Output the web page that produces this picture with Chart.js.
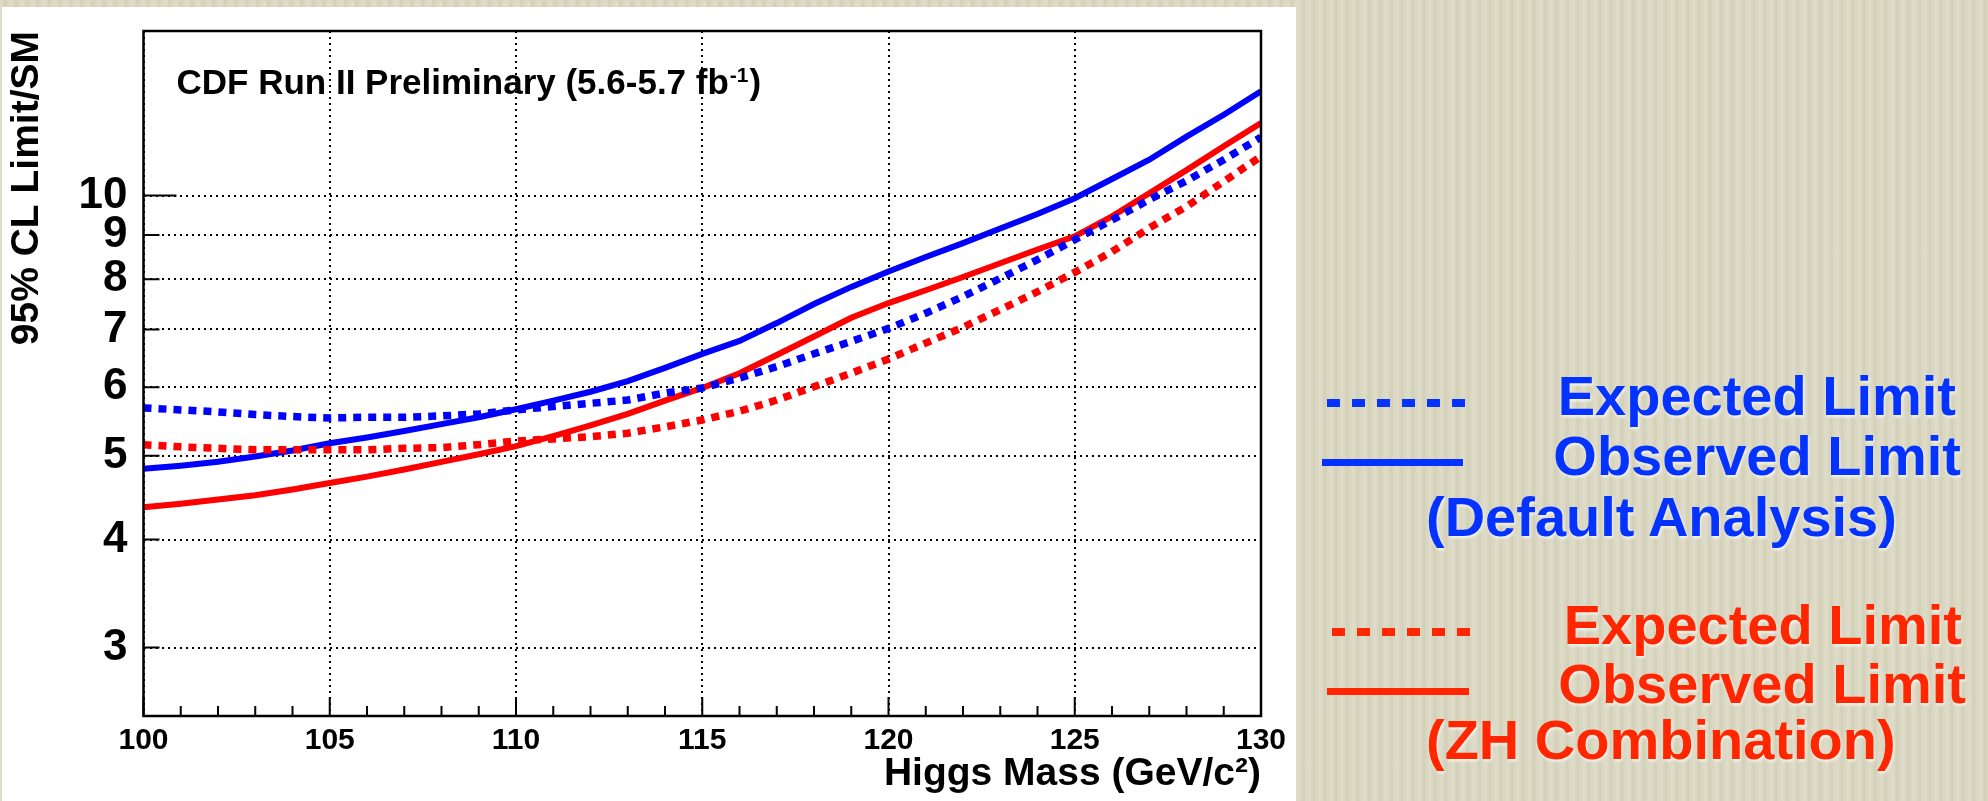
<!DOCTYPE html>
<html><head><meta charset="utf-8">
<script src="https://cdn.jsdelivr.net/npm/chart.js@4.4.0/dist/chart.umd.min.js"></script>
<style>
html,body{margin:0;padding:0;width:1988px;height:801px;overflow:hidden;}
body{position:relative;background-color:#d9d6c0;
 background-image:repeating-linear-gradient(90deg,rgba(255,255,255,0.18) 0px,rgba(255,255,255,0.0) 3px,rgba(120,110,80,0.07) 5px,rgba(255,255,255,0.0) 7px,rgba(255,255,255,0.12) 11px);
 font-family:"Liberation Sans",Arial,sans-serif;}
#panel{position:absolute;left:2px;top:7px;width:1294px;height:794px;background:#fff;}
#c{position:absolute;left:0;top:0;}
.lg{position:absolute;font-weight:bold;font-size:56px;line-height:56px;white-space:nowrap;text-shadow:1px 2px 3px rgba(255,255,255,0.8);}
.blue{color:#0433ff}.red{color:#ff2600}
.ln{position:absolute;}
</style></head>
<body>
<div id="panel"></div>
<canvas id="c" width="1988" height="801"></canvas>

<div class="ln" style="left:1327px;top:399px;width:138px;height:8px;background:repeating-linear-gradient(90deg,#0433ff 0 13px,transparent 13px 25px);"></div>
<div class="ln" style="left:1322px;top:459px;width:141px;height:7px;background:#0433ff;"></div>
<div class="lg blue" style="right:32px;top:368px;">Expected Limit</div>
<div class="lg blue" style="right:27px;top:428px;">Observed Limit</div>
<div class="lg blue" style="left:1426px;top:489px;">(Default Analysis)</div>

<div class="ln" style="left:1332px;top:628px;width:138px;height:8px;background:repeating-linear-gradient(90deg,#ff2600 0 13px,transparent 13px 25px);"></div>
<div class="ln" style="left:1327px;top:688px;width:142px;height:7px;background:#ff2600;"></div>
<div class="lg red" style="right:26px;top:597px;">Expected Limit</div>
<div class="lg red" style="right:22px;top:656px;">Observed Limit</div>
<div class="lg red" style="left:1426px;top:712px;">(ZH Combination)</div>

<script>
// ---- data ----
const masses = [100,101,102,103,104,105,106,107,108,109,110,111,112,113,114,115,116,117,118,119,120,121,122,123,124,125,126,127,128,129,130];
const expectedDefault = [5.68,5.65,5.62,5.58,5.55,5.53,5.54,5.54,5.56,5.59,5.65,5.70,5.75,5.80,5.91,5.99,6.15,6.34,6.56,6.78,7.02,7.31,7.64,8.02,8.43,8.89,9.37,9.89,10.4,11.0,11.68];
const observedDefault = [4.83,4.87,4.92,4.99,5.07,5.17,5.25,5.34,5.44,5.54,5.66,5.79,5.93,6.10,6.32,6.56,6.79,7.12,7.49,7.84,8.17,8.49,8.81,9.16,9.52,9.93,10.45,11.0,11.7,12.4,13.2];
const expectedZH = [5.15,5.12,5.10,5.08,5.08,5.08,5.08,5.10,5.11,5.15,5.20,5.23,5.26,5.31,5.40,5.50,5.63,5.80,6.01,6.23,6.47,6.75,7.04,7.38,7.74,8.15,8.61,9.17,9.71,10.38,11.1];
const observedZH = [4.36,4.40,4.45,4.50,4.57,4.65,4.73,4.82,4.92,5.02,5.13,5.27,5.42,5.59,5.79,5.99,6.23,6.54,6.87,7.22,7.51,7.77,8.05,8.35,8.66,8.97,9.46,10.06,10.7,11.4,12.13];
const xTickValues = [100,105,110,115,120,125,130];
const yTickValues = [3,4,5,6,7,8,9,10];
const xMinorStep = 1;

const FONT = '"Liberation Sans", Arial, sans-serif';
const BLUE = '#0000ff', RED = '#ff0000';

function pts(ys){ return masses.map((m,i)=>({x:m,y:ys[i]})); }

const framePlugin = {
  id:'frame',
  afterDraw(chart){
    const {ctx, chartArea:{left,top,right,bottom}, scales:{x,y}} = chart;
    ctx.save();
    ctx.strokeStyle = '#000';
    ctx.lineWidth = 2;
    ctx.beginPath();
    for (let m = x.min; m <= x.max; m += xMinorStep){
      const px = x.getPixelForValue(m);
      const len = (m % 5 === 0) ? 19 : 10;
      ctx.moveTo(px, bottom); ctx.lineTo(px, bottom - len);
    }
    yTickValues.forEach(v=>{
      const py = y.getPixelForValue(v);
      const len = v === 10 ? 33 : 16;
      ctx.moveTo(left, py); ctx.lineTo(left + len, py);
    });
    ctx.stroke();
    ctx.lineWidth = 2.5;
    ctx.strokeRect(left, top, right - left, bottom - top);
    // in-plot label
    ctx.fillStyle = '#000';
    ctx.textBaseline = 'alphabetic';
    ctx.textAlign = 'left';
    ctx.font = 'bold 35px ' + FONT;
    const t1 = 'CDF Run II Preliminary (5.6-5.7 fb';
    let tx = left + 33, ty = 94;
    ctx.fillText(t1, tx, ty);
    tx += ctx.measureText(t1).width + 1;
    ctx.font = 'bold 21px ' + FONT;
    ctx.fillText('-1', tx, ty - 12);
    tx += ctx.measureText('-1').width + 1;
    ctx.font = 'bold 35px ' + FONT;
    ctx.fillText(')', tx, ty);
    ctx.restore();
  }
};

new Chart(document.getElementById('c'), {
  type:'line',
  data:{
    datasets:[
      {label:'Expected Limit (Default Analysis)', data:pts(expectedDefault), borderColor:BLUE, borderWidth:7.5, borderDash:[8,7], borderCapStyle:'butt'},
      {label:'Expected Limit (ZH Combination)', data:pts(expectedZH), borderColor:RED, borderWidth:7.5, borderDash:[8,7], borderCapStyle:'butt'},
      {label:'Observed Limit (Default Analysis)', data:pts(observedDefault), borderColor:BLUE, borderWidth:6},
      {label:'Observed Limit (ZH Combination)', data:pts(observedZH), borderColor:RED, borderWidth:6}
    ]
  },
  options:{
    responsive:false, animation:false, devicePixelRatio:1,
    parsing:false,
    elements:{point:{radius:0}, line:{tension:0, fill:false}},
    layout:{padding:{left:0, top:31, right:727, bottom:0}},
    plugins:{legend:{display:false}, tooltip:{enabled:false}, title:{display:false}},
    scales:{
      x:{
        type:'linear', min:100, max:130,
        afterBuildTicks(s){ s.ticks = xTickValues.map(v=>({value:v})); },
        afterFit(s){ s.height = 85; s.paddingLeft = 0; s.paddingRight = 0; },
        ticks:{color:'#000', padding:7, maxRotation:0, autoSkip:false, font:{family:FONT, size:30, weight:'bold'}, callback:v=>String(v)},
        grid:{color:'#000', lineWidth:2, drawTicks:false, borderDash:[2,4]},
        border:{display:false, dash:[2,4]},
        title:{display:true, text:'Higgs Mass (GeV/c²)', align:'end', color:'#000', font:{family:FONT, size:39, weight:'bold'}, padding:{top:0, bottom:3}}
      },
      y:{
        type:'logarithmic', min:2.5, max:15.5,
        afterBuildTicks(s){ s.ticks = yTickValues.map(v=>({value:v})); },
        afterFit(s){ s.width = 143.5; s.paddingTop = 0; s.paddingBottom = 0; },
        ticks:{color:'#000', padding:16, autoSkip:false, font:{family:FONT, size:44, weight:'bold'}, callback:v=>String(v)},
        grid:{color:'#000', lineWidth:2, drawTicks:false, borderDash:[2,4]},
        border:{display:false, dash:[2,4]},
        title:{display:true, text:'95% CL Limit/SM', align:'end', color:'#000', font:{family:FONT, size:39, weight:'bold'}, padding:{top:4, bottom:0}}
      }
    }
  },
  plugins:[framePlugin]
});
</script>
</body></html>
